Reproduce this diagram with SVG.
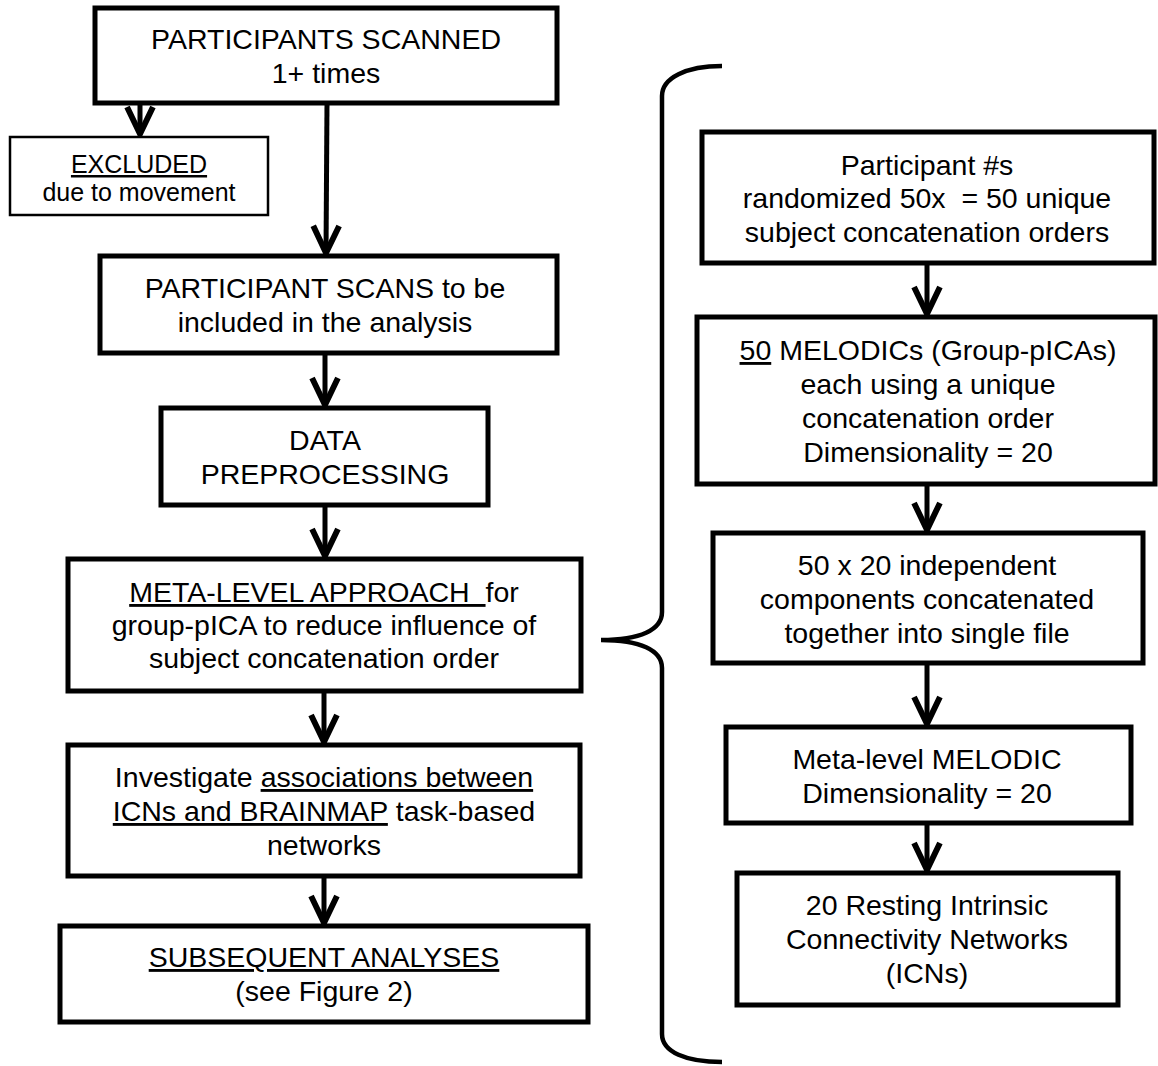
<svg xmlns="http://www.w3.org/2000/svg" width="1158" height="1066" viewBox="0 0 1158 1066">
<style>
.box{fill:#fff;stroke:#000;stroke-width:5;stroke-linejoin:miter}
.thin{fill:#fff;stroke:#000;stroke-width:2.5}
.t{font-family:"Liberation Sans",Arial,sans-serif;font-size:28.5px;fill:#000;text-anchor:middle;white-space:pre}
.s{font-size:25px}
.u{text-decoration:underline}
.con{stroke:#000;stroke-width:5;fill:none;marker-end:url(#arr)}
.brace{stroke:#000;stroke-width:4.5;fill:none}
</style>
<defs>
<marker id="arr" markerUnits="userSpaceOnUse" markerWidth="40" markerHeight="40" viewBox="-30 -15 34 30" refX="0" refY="0" orient="auto" style="overflow:visible">
<path d="M-23,-11 L0,0 L-23,11" fill="none" stroke="#000" stroke-width="5" stroke-linejoin="miter" stroke-miterlimit="10"/>
</marker>
</defs>
<rect width="1158" height="1066" fill="#fff"/>
<g id="connectors">
<line class="con" x1="140" y1="103" x2="140" y2="134"/>
<line class="con" x1="327" y1="103" x2="326" y2="253"/>
<line class="con" x1="325" y1="353" x2="325" y2="405"/>
<line class="con" x1="325" y1="505" x2="325" y2="556"/>
<line class="con" x1="324" y1="691" x2="324" y2="742"/>
<line class="con" x1="324" y1="876" x2="324" y2="923"/>
<line class="con" x1="927" y1="263" x2="927" y2="314"/>
<line class="con" x1="927" y1="484" x2="927" y2="530"/>
<line class="con" x1="927" y1="663" x2="927" y2="724"/>
<line class="con" x1="927" y1="823" x2="927" y2="870"/>
</g>
<g id="brace">
<path class="brace" d="M722,66 C686,66 662,78 662,96 L662,612 C662,630 640,640 601,640 C640,640 662,650 662,668 L662,1034 C662,1052 686,1062 722,1062"/>
</g>
<g id="n1">
<rect class="box" x="95" y="8" width="462" height="95" stroke-width="6"/>
<text class="t" x="326" y="49">PARTICIPANTS SCANNED</text>
<text class="t" x="326" y="83">1+ times</text>
</g>
<g id="n_excluded">
<rect class="thin" x="10" y="137" width="258" height="78"/>
<text class="t s" x="139" y="173"><tspan class="u">EXCLUDED</tspan></text>
<text class="t s" x="139" y="201">due to movement</text>
</g>
<g id="n2">
<rect class="box" x="100" y="256" width="457" height="97"/>
<text class="t" x="325" y="298">PARTICIPANT SCANS to be</text>
<text class="t" x="325" y="332">included in the analysis</text>
</g>
<g id="n3">
<rect class="box" x="161" y="408" width="327" height="97"/>
<text class="t" x="325" y="450">DATA</text>
<text class="t" x="325" y="484">PREPROCESSING</text>
</g>
<g id="n4">
<rect class="box" x="68" y="559" width="513" height="132"/>
<text class="t" x="324" y="602"><tspan class="u">META-LEVEL APPROACH  </tspan>for</text>
<text class="t" x="324" y="635">group-pICA to reduce influence of</text>
<text class="t" x="324" y="668">subject concatenation order</text>
</g>
<g id="n5">
<rect class="box" x="68" y="745" width="512" height="131"/>
<text class="t" x="324" y="787">Investigate <tspan class="u">associations between</tspan></text>
<text class="t" x="324" y="821"><tspan class="u">ICNs and BRAINMAP</tspan> task-based</text>
<text class="t" x="324" y="855">networks</text>
</g>
<g id="n6">
<rect class="box" x="60" y="926" width="528" height="96"/>
<text class="t" x="324" y="967"><tspan class="u">SUBSEQUENT ANALYSES</tspan></text>
<text class="t" x="324" y="1001">(see Figure 2)</text>
</g>
<g id="r1">
<rect class="box" x="702" y="132" width="452" height="131"/>
<text class="t" x="927" y="175">Participant #s</text>
<text class="t" x="927" y="208">randomized 50x  = 50 unique</text>
<text class="t" x="927" y="242">subject concatenation orders</text>
</g>
<g id="r2">
<rect class="box" x="697" y="317" width="458" height="167"/>
<text class="t" x="928" y="360"><tspan class="u">50</tspan> MELODICs (Group-pICAs)</text>
<text class="t" x="928" y="394">each using a unique</text>
<text class="t" x="928" y="428">concatenation order</text>
<text class="t" x="928" y="462">Dimensionality = 20</text>
</g>
<g id="r3">
<rect class="box" x="713" y="533" width="430" height="130"/>
<text class="t" x="927" y="575">50 x 20 independent</text>
<text class="t" x="927" y="609">components concatenated</text>
<text class="t" x="927" y="643">together into single file</text>
</g>
<g id="r4">
<rect class="box" x="726" y="727" width="405" height="96"/>
<text class="t" x="927" y="769">Meta-level MELODIC</text>
<text class="t" x="927" y="803">Dimensionality = 20</text>
</g>
<g id="r5">
<rect class="box" x="737" y="873" width="381" height="132"/>
<text class="t" x="927" y="915">20 Resting Intrinsic</text>
<text class="t" x="927" y="949">Connectivity Networks</text>
<text class="t" x="927" y="983">(ICNs)</text>
</g>
</svg>
